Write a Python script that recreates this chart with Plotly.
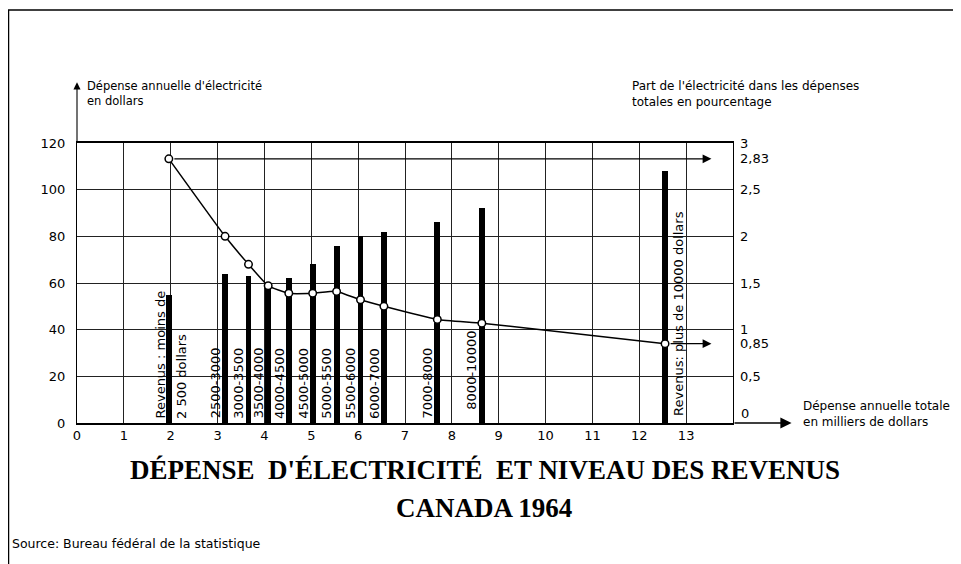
import plotly.graph_objects as go

# ---- data ----
total_spend = [1.96, 3.16, 3.66, 4.08, 4.52, 5.03, 5.54, 6.05, 6.55, 7.69, 8.64, 12.55]  # milliers de dollars
elec_spend = [55, 64, 63, 60, 62, 68, 76, 80, 82, 86, 92, 108]                         # dollars
elec_share = [2.83, 2.00, 1.70, 1.47, 1.39, 1.39, 1.41, 1.32, 1.25, 1.11, 1.07, 0.85]   # %
income_labels = ["Revenus : moins de", "2500-3000", "3000-3500", "3500-4000", "4000-4500",
                 "4500-5000", "5000-5500", "5500-6000", "6000-7000", "7000-8000",
                 "8000-10000", "Revenus: plus de 10000 dollars"]
first_label_line2 = "2 500 dollars"
x_ticks = list(range(0, 14))
y_ticks = [0, 20, 40, 60, 80, 100, 120]
y2_ticks = [0.5, 0.85, 1, 1.5, 2, 2.5, 2.83, 3]
y2_ticktext = ["0,5", "0,85", "1", "1,5", "2", "2,5", "2,83", "3"]

# page body has an 8px margin: figure is sized to fill the rest of the window
OFF = 8
W, H = 961 - OFF, 564 - OFF
ML, MR, MT, MB = 69, 228, 135, 141
PW, PH = W - ML - MR, H - MT - MB

def PX(p):  # screen pixel -> paper x
    return (p - OFF - ML) / PW

def PY(p):  # screen pixel -> paper y
    return (OFF + H - MB - p) / PH

FONT = "DejaVu Sans, sans-serif"
TFONT = "Liberation Serif, serif"

fig = go.Figure()
fig.add_trace(go.Bar(x=total_spend, y=elec_spend, width=0.125,
                     marker=dict(color="black", line=dict(width=0)), yaxis="y"))
fig.add_trace(go.Scatter(x=total_spend, y=elec_share, yaxis="y2", mode="lines+markers",
                         line=dict(color="black", width=1.5, shape="spline", smoothing=0.4),
                         marker=dict(size=7.5, color="white", line=dict(color="black", width=1.5))))

LBL = dict(family=FONT, size=13, color="black")
ann = []
for i, (xv, lab) in enumerate(zip(total_spend, income_labels)):
    if i == 0:
        ann.append(dict(x=xv, y=1, xref="x", yref="y", text=lab, textangle=-90, showarrow=False,
                        xanchor="center", yanchor="bottom", xshift=-8, font=LBL))
        ann.append(dict(x=xv, y=1, xref="x", yref="y", text=first_label_line2, textangle=-90,
                        showarrow=False, xanchor="center", yanchor="bottom", xshift=12, font=LBL))
    elif i == len(income_labels) - 1:
        ann.append(dict(x=xv, y=2, xref="x", yref="y", text=lab, textangle=-90, showarrow=False,
                        xanchor="center", yanchor="bottom", xshift=14, font=LBL))
    else:
        ann.append(dict(x=xv, y=(5 if lab == "8000-10000" else 1), xref="x", yref="y", text=lab,
                        textangle=-90, showarrow=False, xanchor="center", yanchor="bottom",
                        xshift=-10, font=LBL))

# horizontal arrows to the right axis for the first and last share values
for k in (0, len(elec_share) - 1):
    ann.append(dict(x=13.54, y=elec_share[k], xref="x", yref="y2",
                    ax=total_spend[k], ay=elec_share[k], axref="x", ayref="y2",
                    showarrow=True, arrowhead=2, arrowsize=1.6, arrowwidth=1.1,
                    arrowcolor="black", text="", standoff=0, startstandoff=4))

# axis arrows
ann.append(dict(x=15.25, y=0, xref="x", yref="y", ax=14, ay=0, axref="x", ayref="y",
                showarrow=True, arrowhead=2, arrowsize=1.6, arrowwidth=1.4, arrowcolor="black", text=""))
ann.append(dict(x=0, y=146, xref="x", yref="y", ax=0, ay=120, axref="x", ayref="y",
                showarrow=True, arrowhead=2, arrowsize=1.3, arrowwidth=1.1, arrowcolor="black", text=""))

# right-axis "0" label sits above the arrowed x axis
ann.append(dict(x=PX(739), y=PY(413), xref="paper", yref="paper", xanchor="left", yanchor="middle",
                showarrow=False, text="0", font=dict(family=FONT, size=13, color="black")))

# axis titles
ann.append(dict(x=PX(85), y=PY(77), xref="paper", yref="paper", xanchor="left", yanchor="top",
                align="left", showarrow=False,
                text="Dépense annuelle d'électricité<br>en dollars",
                font=dict(family=FONT, size=11.5, color="black")))
ann.append(dict(x=PX(630), y=PY(77), xref="paper", yref="paper", xanchor="left", yanchor="top",
                align="left", showarrow=False,
                text="Part de l'électricité dans les dépenses<br>totales en pourcentage",
                font=dict(family=FONT, size=12, color="black")))
ann.append(dict(x=PX(801), y=PY(397), xref="paper", yref="paper", xanchor="left", yanchor="top",
                align="left", showarrow=False,
                text="Dépense annuelle totale<br>en milliers de dollars",
                font=dict(family=FONT, size=12, color="black")))

# title and source
ann.append(dict(x=PX(485), y=PY(470), xref="paper", yref="paper", xanchor="center", yanchor="middle",
                showarrow=False, text="<b>DÉPENSE\u00a0 D'ÉLECTRICITÉ\u00a0 ET NIVEAU DES REVENUS</b>",
                font=dict(family=TFONT, size=27, color="black")))
ann.append(dict(x=PX(484), y=PY(508), xref="paper", yref="paper", xanchor="center", yanchor="middle",
                showarrow=False, text="<b>CANADA 1964</b>",
                font=dict(family=TFONT, size=27, color="black")))
ann.append(dict(x=PX(10), y=PY(543), xref="paper", yref="paper", xanchor="left", yanchor="middle",
                showarrow=False, text="Source: Bureau fédéral de la statistique",
                font=dict(family=FONT, size=12.5, color="black")))

shapes = [
    dict(type="line", xref="paper", yref="paper", x0=PX(8), x1=PX(961), y0=PY(10), y1=PY(10),
         line=dict(color="black", width=1.5)),
    dict(type="line", xref="paper", yref="paper", x0=PX(8.5), x1=PX(8.5), y0=PY(10), y1=PY(564),
         line=dict(color="black", width=1.5)),
]

fig.update_layout(
    width=W, height=H, margin=dict(l=ML, r=MR, t=MT, b=MB),
    paper_bgcolor="white", plot_bgcolor="white", showlegend=False,
    font=dict(family=FONT, size=13, color="black"),
    xaxis=dict(range=[0, 14], tickvals=x_ticks, ticktext=[str(v) for v in x_ticks],
               showgrid=True, gridcolor="#222", gridwidth=1, zeroline=False,
               showline=True, linecolor="black", linewidth=1.6, mirror=True, ticks="",
               tickfont=dict(family=FONT, size=13)),
    yaxis=dict(range=[0, 120], tickvals=y_ticks, showgrid=True, gridcolor="#222", gridwidth=1,
               zeroline=False, showline=True, linecolor="black", linewidth=1.2, mirror=True,
               ticks="", ticklabelstandoff=8, tickfont=dict(family=FONT, size=13)),
    yaxis2=dict(range=[0, 3], overlaying="y", side="right", tickvals=y2_ticks,
                ticktext=y2_ticktext, showgrid=False, zeroline=False, showline=False, ticks="",
                ticklabelstandoff=6, tickfont=dict(family=FONT, size=13)),
    annotations=ann, shapes=shapes, bargap=0,
)

fig.write_html("out.html")
